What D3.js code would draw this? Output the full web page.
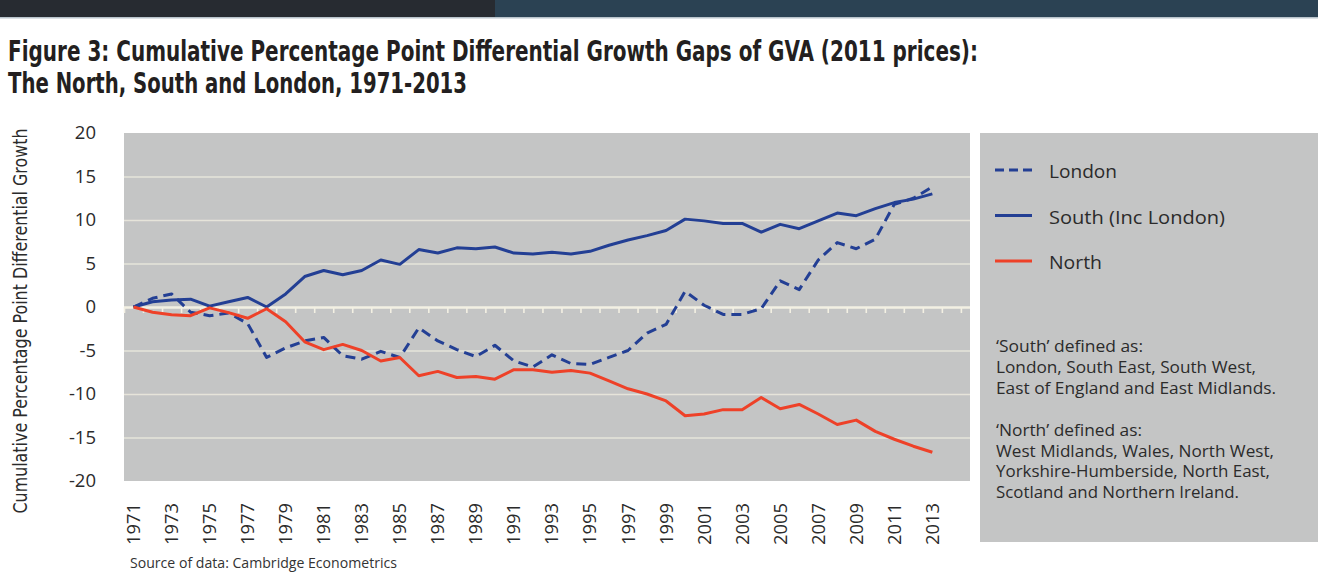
<!DOCTYPE html>
<html>
<head>
<meta charset="utf-8">
<script src="https://cdn.jsdelivr.net/npm/d3@7"></script>
<style>
  body { margin: 0; background: #fff; }
  svg { display: block; }
</style>
</head>
<body>
<script>
// values (percentage points, 1971 = 0)
const years = [
  1971, 1972, 1973, 1974, 1975, 1976, 1977, 1978, 1979, 1980,
  1981, 1982, 1983, 1984, 1985, 1986, 1987, 1988, 1989, 1990,
  1991, 1992, 1993, 1994, 1995, 1996, 1997, 1998, 1999, 2000,
  2001, 2002, 2003, 2004, 2005, 2006, 2007, 2008, 2009, 2010,
  2011, 2012, 2013,
];
const london = [
  0, 1.0, 1.5, -0.6, -1.0, -0.7, -1.9, -5.8, -4.7, -3.9,
  -3.5, -5.6, -6.0, -5.1, -5.8, -2.4, -3.9, -4.9, -5.7, -4.4,
  -6.2, -6.9, -5.5, -6.5, -6.6, -5.8, -5.0, -3.0, -2.0, 1.8,
  0.2, -0.85, -0.85, -0.2, 3.0, 2.0, 5.4, 7.4, 6.7, 7.8,
  11.8, 12.5, 13.8,
];
const south = [
  0, 0.6, 0.8, 0.9, 0.1, 0.6, 1.1, 0.0, 1.5, 3.5,
  4.2, 3.7, 4.2, 5.4, 4.9, 6.6, 6.2, 6.8, 6.7, 6.9,
  6.2, 6.1, 6.3, 6.1, 6.4, 7.1, 7.7, 8.2, 8.8, 10.1,
  9.9, 9.6, 9.6, 8.6, 9.5, 9.0, 9.9, 10.8, 10.5, 11.3,
  12.0, 12.4, 13.0,
];
const north = [
  0, -0.6, -0.9, -1.0, -0.1, -0.65, -1.3, -0.2, -1.7, -4.0,
  -4.9, -4.3, -5.0, -6.2, -5.8, -7.9, -7.4, -8.1, -8.0, -8.3,
  -7.2, -7.2, -7.5, -7.3, -7.6, -8.5, -9.4, -10.0, -10.8, -12.5,
  -12.3, -11.8, -11.8, -10.4, -11.7, -11.2, -12.3, -13.5, -13.0, -14.3,
  -15.2, -16.0, -16.7,
];
const yTicks = [20, 15, 10, 5, 0, -5, -10, -15, -20];
const gridValues = [15, 10, 5, -5, -10, -15];
const xLabels = [
  1971, 1973, 1975, 1977, 1979, 1981, 1983, 1985, 1987, 1989, 1991,
  1993, 1995, 1997, 1999, 2001, 2003, 2005, 2007, 2009, 2011, 2013,
];

const seriesNames = ["London", "South (Inc London)", "North"];
const noteLines = [
  "\u2018South\u2019 defined as:",
  "London, South East, South West,",
  "East of England and East Midlands.",
  "",
  "\u2018North\u2019 defined as:",
  "West Midlands, Wales, North West,",
  "Yorkshire-Humberside, North East,",
  "Scotland and Northern Ireland.",
];
// widths the note lines take up in the reference
const noteWidths = [147, 260, 280, 0, 146, 278, 274, 243];

const BLUE = "#233f94";
const RED = "#ee4128";
const PANEL = "#c4c5c5";
const TEXT = "#2b2b2b";
const BODY_FONT = "'Open Sans', 'Noto Sans', sans-serif";
const NARROW_FONT = "'Liberation Sans Narrow', 'DejaVu Sans Condensed', 'Arial Narrow', sans-serif";

const width = 1318;
const height = 586;
const plot = { left: 124, top: 133, right: 970, bottom: 481 };
const bandStep = 19.02;

const svg = d3
  .select("body")
  .append("svg")
  .attr("width", width)
  .attr("height", height)
  .attr("viewBox", `0 0 ${width} ${height}`);

// header strip
svg.append("rect").attr("x", 0).attr("y", 0).attr("width", width).attr("height", 17).attr("fill", "#2b4253");
svg.append("rect").attr("x", 0).attr("y", 0).attr("width", 495).attr("height", 17).attr("fill", "#272b31");
svg.append("rect").attr("x", 0).attr("y", 17).attr("width", width).attr("height", 1.5).attr("fill", "#b9c4cc");

// title
const titleLines = [
  { text: "Figure 3: Cumulative Percentage Point Differential Growth Gaps of GVA (2011 prices):", y: 61, len: 970 },
  { text: "The North, South and London, 1971-2013", y: 93, len: 459 },
];
svg
  .selectAll(".title")
  .data(titleLines)
  .join("text")
  .attr("class", "title")
  .attr("x", 8)
  .attr("y", (d) => d.y)
  .attr("textLength", (d) => d.len)
  .attr("lengthAdjust", "spacingAndGlyphs")
  .style("font-family", NARROW_FONT)
  .style("font-weight", "700")
  .style("font-size", "29px")
  .style("fill", "#231f20")
  .text((d) => d.text);

// scales: each year sits in the middle of its category slot
const x = d3
  .scaleLinear()
  .domain([1970.5, 2014.5])
  .range([plot.left, plot.left + 44 * bandStep]);

const y = d3.scaleLinear().domain([-20, 20]).range([plot.bottom, plot.top]);

svg
  .append("rect")
  .attr("x", plot.left)
  .attr("y", plot.top)
  .attr("width", plot.right - plot.left)
  .attr("height", plot.bottom - plot.top)
  .attr("fill", PANEL);

// grid
svg
  .append("g")
  .attr("transform", `translate(${plot.left},0)`)
  .call(d3.axisLeft(y).tickValues(gridValues).tickSize(-(plot.right - plot.left)).tickFormat(""))
  .call((g) => g.select(".domain").remove())
  .call((g) => g.selectAll("line").attr("stroke", "#e6e4da").attr("stroke-width", 1.6));

// zero line with category boundary ticks hanging below it
svg
  .append("g")
  .attr("transform", `translate(${plot.left},0)`)
  .call(d3.axisLeft(y).tickValues([0]).tickSize(-(plot.right - plot.left)).tickFormat(""))
  .call((g) => g.select(".domain").remove())
  .call((g) => g.selectAll("line").attr("stroke", "#f3f0e3").attr("stroke-width", 2.6));

svg
  .append("g")
  .attr("transform", `translate(0,${y(0)})`)
  .call(d3.axisBottom(x).tickValues(d3.range(1970.5, 2015, 1)).tickSize(6).tickSizeOuter(0).tickFormat(""))
  .call((g) => g.select(".domain").remove())
  .call((g) => g.selectAll("line").attr("stroke", "#f3f0e3").attr("stroke-width", 1.6));

// y axis labels (plain hyphen, as in the original)
svg
  .append("g")
  .attr("transform", `translate(${plot.left},0)`)
  .call(d3.axisLeft(y).tickValues(yTicks).tickSize(0).tickPadding(28).tickFormat((d) => String(d)))
  .call((g) => g.select(".domain").remove())
  .call((g) =>
    g
      .selectAll("text")
      .style("font-family", BODY_FONT)
      .style("font-size", "18.5px")
      .style("fill", TEXT),
  );

svg
  .append("text")
  .attr("transform", "translate(27,321) rotate(-90)")
  .attr("text-anchor", "middle")
  .attr("textLength", 385)
  .attr("lengthAdjust", "spacingAndGlyphs")
  .style("font-family", NARROW_FONT)
  .style("font-size", "19px")
  .style("fill", TEXT)
  .text("Cumulative Percentage Point Differential Growth");

// x labels (rotated)
svg
  .selectAll(".x-label")
  .data(xLabels)
  .join("text")
  .attr("class", "x-label")
  .attr("transform", (d) => `translate(${x(d) + 6.5},503) rotate(-90)`)
  .attr("text-anchor", "end")
  .attr("textLength", 42)
  .attr("lengthAdjust", "spacingAndGlyphs")
  .style("font-family", BODY_FONT)
  .style("font-size", "18.5px")
  .style("fill", TEXT)
  .text((d) => d);

// lines
const line = d3
  .line()
  .x((d) => x(d[0]))
  .y((d) => y(d[1]));

const series = [
  { values: london, color: BLUE, dash: "10,6" },
  { values: south, color: BLUE, dash: null },
  { values: north, color: RED, dash: null },
];

svg
  .selectAll(".series")
  .data(series)
  .join("path")
  .attr("class", "series")
  .attr("d", (s) => line(years.map((yr, i) => [yr, s.values[i]])))
  .attr("fill", "none")
  .attr("stroke", (s) => s.color)
  .attr("stroke-width", 3)
  .attr("stroke-linejoin", "round")
  .attr("stroke-dasharray", (s) => s.dash);

// legend panel
svg
  .append("rect")
  .attr("x", 980)
  .attr("y", plot.top)
  .attr("width", width - 980)
  .attr("height", 409)
  .attr("fill", PANEL);

const legendItems = seriesNames.map((name, i) => ({
  name,
  color: series[i].color,
  dash: series[i].dash,
  cy: 170 + i * 45.5,
  len: [68, 176, 53][i],
}));

const legend = svg
  .selectAll(".legend-item")
  .data(legendItems)
  .join("g")
  .attr("class", "legend-item");

legend
  .append("line")
  .attr("x1", 995)
  .attr("x2", 1032)
  .attr("y1", (d) => d.cy)
  .attr("y2", (d) => d.cy)
  .attr("stroke", (d) => d.color)
  .attr("stroke-width", 3)
  .attr("stroke-dasharray", (d) => (d.dash ? "9,5" : null));

legend
  .append("text")
  .attr("x", 1049)
  .attr("y", (d) => d.cy + 8)
  .attr("textLength", (d) => d.len)
  .attr("lengthAdjust", "spacingAndGlyphs")
  .style("font-family", BODY_FONT)
  .style("font-size", "19px")
  .style("fill", TEXT)
  .text((d) => d.name);

svg
  .selectAll(".note")
  .data(noteLines)
  .join("text")
  .attr("class", "note")
  .attr("x", 996)
  .attr("y", (d, i) => 352 + i * 20.9)
  .attr("textLength", (d, i) => (noteWidths[i] ? noteWidths[i] : null))
  .attr("lengthAdjust", "spacingAndGlyphs")
  .style("font-family", BODY_FONT)
  .style("font-size", "16px")
  .style("fill", TEXT)
  .text((d) => d);

svg
  .append("text")
  .attr("x", 130)
  .attr("y", 568)
  .attr("textLength", 267)
  .attr("lengthAdjust", "spacingAndGlyphs")
  .style("font-family", BODY_FONT)
  .style("font-size", "14px")
  .style("fill", "#333")
  .text("Source of data: Cambridge Econometrics");
</script>
</body>
</html>
